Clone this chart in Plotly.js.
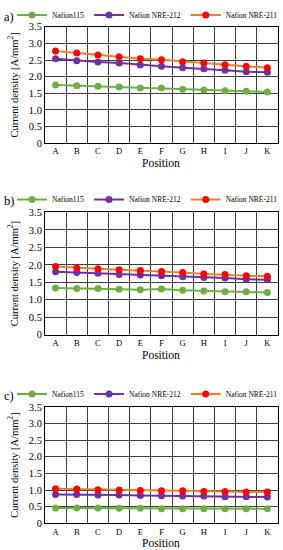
<!DOCTYPE html>
<html><head><meta charset="utf-8">
<script src="https://cdn.plot.ly/plotly-3.0.1.min.js"></script>
<style>html,body{margin:0;padding:0;background:#fff}#chart{width:283px;height:550px}</style>
</head><body><div id="chart"></div>
<script>
// ---- data ----
const positions = ['A','B','C','D','E','F','G','H','I','J','K'];
const seriesNames = ['Nafion115','Nafion NRE-212','Nafion NRE-211'];
const panelLabels = ['a)','b)','c)'];
const xTitle = 'Position';
const yTitle = 'Current density [A/mm<sup>2</sup>]';
const yTickVals = [0,0.5,1.0,1.5,2.0,2.5,3.0,3.5];
const yTickText = ['0','0.5','1.0','1.5','2.0','2.5','3.0','3.5'];

// panel a
const a_n115   = [1.75,1.73,1.71,1.69,1.66,1.66,1.62,1.60,1.58,1.56,1.54];
const a_nre212 = [2.54,2.48,2.44,2.41,2.35,2.31,2.27,2.24,2.19,2.15,2.13];
const a_nre211 = [2.77,2.71,2.65,2.60,2.54,2.51,2.45,2.41,2.36,2.31,2.27];
// panel b
const b_n115   = [1.34,1.32,1.32,1.30,1.29,1.31,1.27,1.25,1.23,1.23,1.21];
const b_nre212 = [1.80,1.78,1.76,1.72,1.71,1.69,1.66,1.64,1.62,1.59,1.57];
const b_nre211 = [1.95,1.91,1.89,1.86,1.84,1.81,1.78,1.74,1.72,1.69,1.67];
// panel c
const c_n115   = [0.46,0.46,0.46,0.45,0.45,0.44,0.44,0.44,0.44,0.44,0.44];
const c_nre212 = [0.87,0.87,0.85,0.85,0.84,0.83,0.82,0.82,0.80,0.80,0.79];
const c_nre211 = [1.04,1.03,1.01,1.00,0.99,0.98,0.98,0.96,0.96,0.94,0.94];

// ---- styling ----
const lineColors = ['#70AD47','#7030A0','#ED7D31'];
const markerColors = ['#70AD47','#7030A0','#FF0000'];
const FONT = '"Liberation Serif", serif';

const panels = [[a_n115,a_nre212,a_nre211],[b_n115,b_nre212,b_nre211],[c_n115,c_nre212,c_nre211]];
const domainsPx = [[20,138],[208,332],[405,523]];
const legendYPx = [8,195,392];
const H = 550, W = 283;
const xDom = [45/W, 278/W];

const traces = [];
const layout = {
  width: W, height: H,
  margin: {l:0,r:0,t:0,b:0},
  paper_bgcolor:'#fff', plot_bgcolor:'#fff',
  font: {family: FONT, color:'#000'},
  annotations: [],
  showlegend: true
};

panels.forEach((p, i) => {
  const xa = i===0 ? 'x' : 'x'+(i+1);
  const ya = i===0 ? 'y' : 'y'+(i+1);
  const lg = i===0 ? 'legend' : 'legend'+(i+1);
  p.forEach((vals, k) => {
    traces.push({
      type:'scatter', mode:'lines+markers',
      x: positions, y: vals, name: seriesNames[k],
      xaxis: xa, yaxis: ya, legend: lg,
      line: {color: lineColors[k], width: 2},
      marker: {color: markerColors[k], size: 7},
      hoverinfo:'skip'
    });
  });
  const xk = i===0 ? 'xaxis' : 'xaxis'+(i+1);
  const yk = i===0 ? 'yaxis' : 'yaxis'+(i+1);
  const d = domainsPx[i];
  layout[xk] = {
    domain: xDom, anchor: ya,
    type:'category', range:[-0.5,10.5], tickson:'boundaries',
    showgrid:true, gridcolor:'#3c3c3c', gridwidth:1,
    showline:true, linecolor:'#000', linewidth:1, mirror:true,
    ticks:'', tickfont:{size:8.5, family:FONT},
    automargin:false, fixedrange:true, zeroline:false
  };
  layout[yk] = {
    domain: [1-d[1]/H, 1-d[0]/H], anchor: xa,
    range:[0,3.5], tickvals: yTickVals, ticktext: yTickText,
    showgrid:true, gridcolor:'#3c3c3c', gridwidth:1,
    showline:true, linecolor:'#000', linewidth:1, mirror:true,
    ticks:'', tickfont:{size:10.5, family:FONT},
    title:{text: yTitle, font:{size:10.5, family:FONT}, standoff:8},
    automargin:false, fixedrange:true, zeroline:false
  };
  layout[lg] = {
    orientation:'h', x: 1, xanchor:'right', y: 1-legendYPx[i]/H, yanchor:'middle',
    font:{size:7.5, family:FONT}, bgcolor:'rgba(0,0,0,0)', itemwidth:30,
    tracegroupgap:0
  };
  layout.annotations.push({
    text: panelLabels[i], xref:'paper', yref:'paper',
    x: 2/W, y: 1-(legendYPx[i]+2)/H, xanchor:'left', yanchor:'middle',
    showarrow:false, font:{size:12.5, family:FONT}
  });
  layout.annotations.push({
    text: xTitle, xref:'paper', yref:'paper',
    x: (xDom[0]+xDom[1])/2, y: 1-(d[1]+20)/H, xanchor:'center', yanchor:'middle',
    showarrow:false, font:{size:11.5, family:FONT}
  });
});

Plotly.newPlot('chart', traces, layout, {displayModeBar:false, staticPlot:true});
</script></body></html>
